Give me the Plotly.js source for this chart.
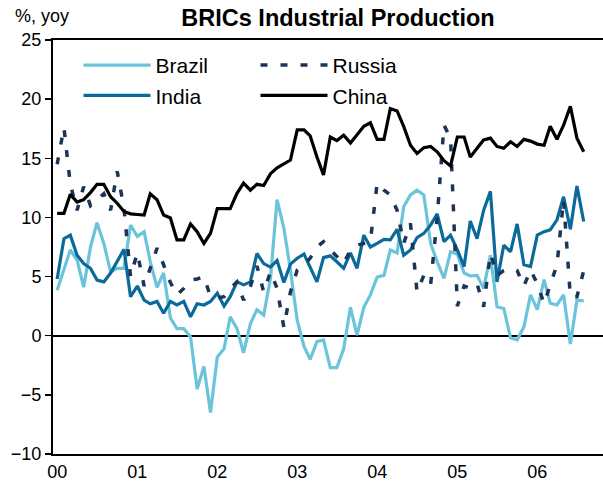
<!DOCTYPE html>
<html>
<head>
<meta charset="utf-8">
<script src="https://cdn.plot.ly/plotly-3.0.1.min.js"></script>
<style>html,body{margin:0;padding:0;background:#fff;}#chart{width:603px;height:485px;}</style>
</head>
<body>
<div id="chart"></div>
<script>
// Monthly, Jan 2000 - Aug 2006
var months = [];
for (var y = 2000; y <= 2006; y++) {
  for (var m = 1; m <= 12; m++) {
    if (y === 2006 && m > 8) break;
    months.push(y + '-' + (m < 10 ? '0' + m : m) + '-01');
  }
}
var yearTicks = ['2000-01-01','2001-01-01','2002-01-01','2003-01-01','2004-01-01','2005-01-01','2006-01-01'];
var yearLabels = ['00','01','02','03','04','05','06'];

var brazil = [3.85,5.55,7.25,6.4,4.1,7.5,9.55,7.8,5.4,5.7,5.7,9.35,
  8.4,8.8,6.25,4.1,5.3,1.5,0.6,0.6,-0.1,-4.5,-2.6,-6.5,
  -1.8,-1.1,1.6,0.6,-1.45,1.0,2.2,1.75,4.85,11.5,9.1,5.55,
  1.3,-0.9,-2.0,-0.5,-0.35,-2.7,-2.7,-1.1,2.4,0.05,2.4,3.45,
  4.95,5.1,7.25,7.0,10.9,11.9,12.3,11.9,7.8,6.25,4.85,7.1,
  6.9,5.3,5.05,5.1,4.0,6.8,2.45,2.3,-0.2,-0.35,0.75,3.45,
  2.2,4.75,2.75,2.6,3.45,-0.7,3.0,2.95];
var russia = [14.5,17.6,12.8,10.6,12.6,11.0,11.5,12.0,10.6,13.9,10.8,5.0,
  7.0,4.2,5.7,7.4,6.0,4.5,3.45,4.0,4.7,4.8,5.0,3.3,
  3.2,3.3,4.0,4.55,3.0,4.15,5.9,3.7,5.4,4.0,0.7,3.7,
  5.55,6.0,6.55,7.5,7.95,7.25,6.7,6.1,7.25,7.65,7.8,8.0,
  12.9,12.3,11.9,10.6,7.8,9.5,3.7,5.1,4.3,10.0,17.8,16.7,
  2.5,4.2,4.0,4.4,2.45,6.95,5.1,5.5,5.7,5.5,4.2,5.55,
  4.4,2.7,4.3,6.0,11.5,3.3,3.3,5.5];
var india = [4.8,8.2,8.5,6.8,6.1,5.7,4.7,4.55,5.3,6.25,7.3,3.3,
  4.2,3.0,2.7,2.9,1.9,2.9,2.6,2.9,1.6,2.7,2.6,2.9,
  3.6,2.5,3.3,4.55,4.3,4.55,6.95,6.1,5.8,6.35,4.5,6.05,
  6.55,6.9,5.85,4.55,6.6,6.75,6.25,5.7,7.0,5.7,8.5,7.5,
  7.8,8.15,8.1,9.0,6.8,7.25,8.3,8.65,9.35,10.3,7.95,8.5,
  7.25,5.85,9.7,8.2,10.6,12.2,4.55,7.65,7.1,9.45,6.0,5.85,
  8.5,8.8,8.95,9.8,11.75,9.0,12.65,9.65];
var china = [10.35,10.35,11.95,11.3,11.5,12.1,12.8,12.8,11.75,11.2,10.5,10.3,
  10.25,10.2,12.0,11.5,10.2,9.95,8.1,8.1,9.45,8.8,7.8,8.65,
  10.75,10.75,10.75,12.04,12.9,12.3,12.8,12.7,13.7,14.2,14.5,14.85,
  17.4,17.4,16.9,15.1,13.6,16.8,16.5,16.95,16.3,17.0,17.7,18.0,
  16.6,16.6,19.2,19.0,17.7,16.1,15.4,15.9,16.0,15.55,14.8,14.35,
  16.8,16.8,15.1,15.85,16.55,16.7,16.0,15.85,16.4,16.0,16.6,16.45,
  16.2,16.1,17.7,16.6,17.8,19.4,16.7,15.55];

var FONT = 'Liberation Sans, Arial, Helvetica, sans-serif';

var traces = [
  {x: months, y: brazil, name: 'Brazil', type: 'scatter', mode: 'lines',
   line: {color: '#6cc4da', width: 3.2}, legend: 'legend'},
  {x: months, y: india, name: 'India', type: 'scatter', mode: 'lines',
   line: {color: '#0a6a9a', width: 3.2}, legend: 'legend'},
  {x: months, y: russia, name: 'Russia', type: 'scatter', mode: 'lines',
   line: {color: '#1c3557', width: 3.5, dash: '7px,13px'}, legend: 'legend2'},
  {x: months, y: china, name: 'China', type: 'scatter', mode: 'lines',
   line: {color: '#000000', width: 3.2}, legend: 'legend2'}
];

var legendCommon = {
  bgcolor: 'rgba(0,0,0,0)', borderwidth: 0,
  font: {family: FONT, size: 21, color: '#000'},
  itemwidth: 67, tracegroupgap: 0,
  yanchor: 'top', y: 0.988, xanchor: 'left'
};

var layout = {
  width: 603, height: 485,
  margin: {l: 53, r: 0, t: 40, b: 31},
  paper_bgcolor: '#fff', plot_bgcolor: '#fff',
  showlegend: true,
  font: {family: FONT, color: '#000'},
  title: {text: '<b>BRICs Industrial Production</b>', font: {family: FONT, size: 23.5, color: '#000'},
          x: 338/603, xref: 'container', xanchor: 'center', y: 1 - 18/485, yref: 'container', yanchor: 'middle'},
  xaxis: {type: 'date', range: ['1999-12-13', '2006-10-28'],
          tickmode: 'array', tickvals: yearTicks, ticktext: yearLabels,
          ticks: '', showgrid: false, zeroline: false,
          showline: true, linecolor: '#000', linewidth: 2, mirror: true,
          tickfont: {family: FONT, size: 18, color: '#000'}},
  yaxis: {range: [-10, 25], dtick: 5, tick0: 0, ticks: 'outside', ticklen: 6, tickwidth: 1.5, tickcolor: '#000',
          showgrid: false, zeroline: true, zerolinecolor: '#000', zerolinewidth: 2,
          showline: true, linecolor: '#000', linewidth: 2,
          tickfont: {family: FONT, size: 18, color: '#000'}},
  legend: Object.assign({}, legendCommon, {x: 0.0464}),
  legend2: Object.assign({}, legendCommon, {x: 0.3682}),
  annotations: [{text: '%, yoy', xref: 'paper', yref: 'paper', x: -0.0727, y: 1.059,
                 xanchor: 'left', yanchor: 'middle', showarrow: false,
                 font: {family: FONT, size: 18, color: '#000'}}]
};

Plotly.newPlot('chart', traces, layout, {displayModeBar: false, staticPlot: true});
</script>
</body>
</html>
